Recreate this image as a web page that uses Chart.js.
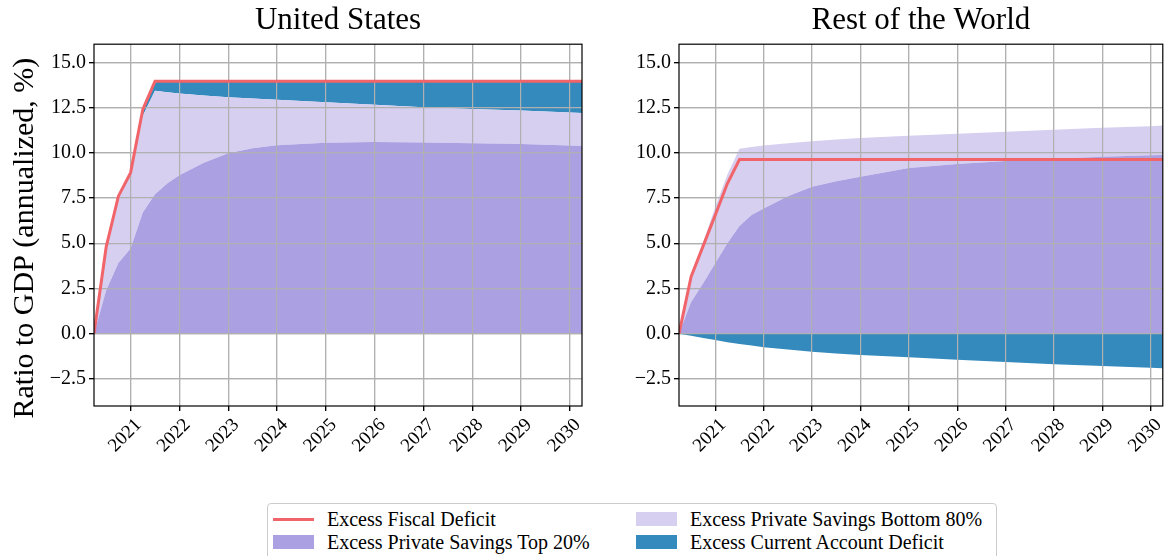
<!DOCTYPE html>
<html>
<head>
<meta charset="utf-8">
<script src="https://cdn.jsdelivr.net/npm/chart.js@4.4.1/dist/chart.umd.min.js"></script>
<style>
  html, body { margin: 0; padding: 0; background: #fff; overflow: hidden; width: 1166px; height: 556px; }
  .panel { position: absolute; top: 0; }
  #legend { position: absolute; left: 267px; top: 503px; width: 730px; height: 62px; border: 1px solid #cccccc; border-radius: 4px; box-sizing: border-box; background: #fff;
            font-family: "Liberation Serif", "Times New Roman", serif; font-size: 20px; color: #000; }
  .item { position: absolute; height: 22px; line-height: 22px; display: flex; align-items: center; white-space: nowrap; }
  .swatch { width: 41px; height: 14px; margin-right: 13px; }
  .swatch.line { height: 3px; }
</style>
</head>
<body>
<div class="panel" style="left:0px"><canvas id="usChart" width="600" height="466"></canvas></div>
<div class="panel" style="left:600px"><canvas id="rowChart" width="570" height="466"></canvas></div>
<div id="legend">
  <div class="item" style="left:5px; top:4px"><span class="swatch line" style="background:#f0646a"></span>Excess Fiscal Deficit</div>
  <div class="item" style="left:5px; top:27px"><span class="swatch" style="background:#aba0e2"></span>Excess Private Savings Top 20%</div>
  <div class="item" style="left:368px; top:4px"><span class="swatch" style="background:#d6cff0"></span>Excess Private Savings Bottom 80%</div>
  <div class="item" style="left:368px; top:27px"><span class="swatch" style="background:#348abd"></span>Excess Current Account Deficit</div>
</div>
<script>
const years = [2020.25, 2020.5, 2020.75, 2021, 2021.25, 2021.5, 2021.75, 2022, 2022.5, 2023, 2023.5, 2024, 2025, 2026, 2027, 2028, 2029, 2030, 2030.25];
const yearTicks = [2021, 2022, 2023, 2024, 2025, 2026, 2027, 2028, 2029, 2030];
const ratioTicks = [-2.5, 0, 2.5, 5, 7.5, 10, 12.5, 15];

// United States
const usFiscal = [0, 4.8, 7.6, 8.9, 12.4, 13.95, 13.95, 13.95, 13.95, 13.95, 13.95, 13.95, 13.95, 13.95, 13.95, 13.95, 13.95, 13.95, 13.95];
const usTop20 = [0, 2.4, 3.9, 4.7, 6.7, 7.7, 8.3, 8.75, 9.45, 9.97, 10.25, 10.42, 10.55, 10.6, 10.57, 10.53, 10.48, 10.4, 10.37];
const usBottom80 = [0, 2.35, 3.6, 4.0, 5.35, 5.72, 5.05, 4.53, 3.72, 3.1, 2.75, 2.51, 2.24, 2.05, 1.95, 1.89, 1.85, 1.83, 1.83];
const usCurrentAccount = [0, 0.05, 0.1, 0.2, 0.35, 0.53, 0.6, 0.67, 0.78, 0.88, 0.95, 1.02, 1.16, 1.3, 1.43, 1.53, 1.62, 1.72, 1.75];

// Rest of the World
const rowFiscal = [0, 3.15, 4.85, 6.56, 8.3, 9.62, 9.62, 9.62, 9.62, 9.62, 9.62, 9.62, 9.62, 9.62, 9.62, 9.62, 9.62, 9.62, 9.62];
const rowTop20 = [0, 1.75, 2.78, 3.89, 5.0, 5.95, 6.56, 6.92, 7.6, 8.12, 8.43, 8.67, 9.15, 9.38, 9.55, 9.67, 9.78, 9.86, 9.88];
const rowBottom80 = [0, 1.55, 2.3, 3.11, 3.8, 4.27, 3.76, 3.48, 2.92, 2.52, 2.3, 2.14, 1.79, 1.67, 1.61, 1.6, 1.6, 1.61, 1.62];
const rowCurrentAccount = [0, -0.12, -0.24, -0.35, -0.47, -0.57, -0.66, -0.75, -0.88, -1.0, -1.1, -1.18, -1.3, -1.44, -1.57, -1.69, -1.79, -1.88, -1.91];

const RED = "#f0646a";
const PURPLE_DARK = "#aba0e2";
const PURPLE_LIGHT = "#d6cff0";
const BLUE = "#348abd";
const GRID = "#b0b0b0";
const FONT = "'Liberation Serif', 'Times New Roman', serif";

const pts = vals => vals.map((v, i) => ({ x: years[i], y: v }));

// fills first, then grid over them, then the fiscal line, then the frame
const gridOnTop = {
  id: "gridOnTop",
  beforeDatasetsDraw(chart) {
    chart.ctx.save();
    chart.scales.x.drawGrid(chart.chartArea);
    chart.scales.y.drawGrid(chart.chartArea);
    chart.ctx.restore();
  },
  afterDatasetsDraw(chart) {
    const { ctx, chartArea: a } = chart;
    ctx.save();
    ctx.strokeStyle = "#000";
    ctx.lineWidth = 1.2;
    ctx.strokeRect(a.left, a.top, a.right - a.left, a.bottom - a.top);
    ctx.restore();
  }
};

// y label sits a bit below the axes centre in the original
const yLabel = {
  id: "yLabel",
  afterDraw(chart, args, opts) {
    if (!opts.text) return;
    const { ctx, chartArea: a } = chart;
    ctx.save();
    ctx.translate(a.left - 69, (a.top + a.bottom) / 2 + 13);
    ctx.rotate(-Math.PI / 2);
    ctx.font = "30px " + FONT;
    ctx.fillStyle = "#000";
    ctx.textAlign = "center";
    ctx.textBaseline = "middle";
    ctx.fillText(opts.text, 0, 0);
    ctx.restore();
  }
};

function makeChart(id, title, fiscal, top20, bottom80, ca, caFill, yTitle, yWidth, padRight) {
  const ctx = document.getElementById(id).getContext("2d");
  return new Chart(ctx, {
    type: "line",
    data: {
      datasets: [
        { label: "Excess Private Savings Top 20%", data: pts(top20), backgroundColor: PURPLE_DARK, borderColor: "rgba(0,0,0,0)", fill: "origin", stack: "savings" },
        { label: "Excess Private Savings Bottom 80%", data: pts(bottom80), backgroundColor: PURPLE_LIGHT, borderColor: "rgba(0,0,0,0)", fill: "-1", stack: "savings" },
        { label: "Excess Current Account Deficit", data: pts(ca), backgroundColor: BLUE, borderColor: "rgba(0,0,0,0)", fill: caFill, stack: "savings" },
        { label: "Excess Fiscal Deficit", data: pts(fiscal), borderColor: RED, borderWidth: 3, fill: false, stack: "fiscal", order: -1 }
      ]
    },
    options: {
      responsive: false,
      animation: false,
      events: [],
      elements: { point: { radius: 0 }, line: { tension: 0 } },
      layout: { padding: { left: 0, right: padRight, top: 0, bottom: 0 } },
      plugins: {
        legend: { display: false },
        tooltip: { enabled: false },
        filler: { drawTime: "beforeDatasetsDraw" },
        yLabel: { text: yTitle },
        title: {
          display: true, text: title, fullSize: false, color: "#000",
          font: { family: FONT, size: 31, weight: "normal" },
          padding: { top: 2, bottom: 5 }
        }
      },
      scales: {
        x: {
          type: "linear",
          min: years[0],
          max: years[years.length - 1],
          afterBuildTicks: s => { s.ticks = yearTicks.map(v => ({ value: v })); },
          afterFit: s => { s.height = 60; },
          grid: { color: GRID, lineWidth: 1.2, tickLength: 5, tickColor: "#000" },
          border: { display: false },
          ticks: {
            autoSkip: false, minRotation: 45, maxRotation: 45, labelOffset: 8,
            color: "#000", font: { family: FONT, size: 19 },
            callback: v => String(v)
          }
        },
        y: {
          stacked: true,
          min: -4,
          max: 16,
          afterBuildTicks: s => { s.ticks = ratioTicks.map(v => ({ value: v })); },
          afterFit: s => { s.width = yWidth; },
          grid: { color: GRID, lineWidth: 1.2, tickLength: 5, tickColor: "#000" },
          border: { display: false },
          ticks: {
            color: "#000", padding: 3, font: { family: FONT, size: 20 },
            callback: v => v.toFixed(1).replace("-", "\u2212")
          }
        }
      }
    },
    plugins: [gridOnTop, yLabel]
  });
}

makeChart("usChart", "United States", usFiscal, usTop20, usBottom80, usCurrentAccount, "-1", "Ratio to GDP (annualized, %)", 94, 18);
makeChart("rowChart", "Rest of the World", rowFiscal, rowTop20, rowBottom80, rowCurrentAccount, "origin", "", 79, 4);
</script>
</body>
</html>
